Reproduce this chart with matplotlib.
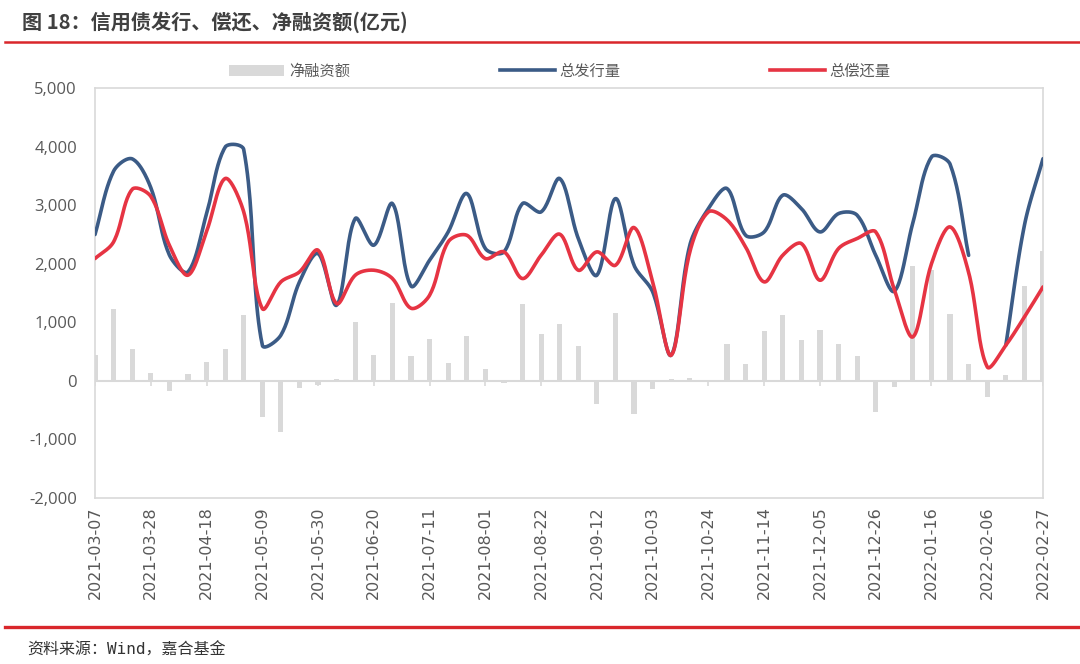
import numpy as np
import pandas as pd
import matplotlib
matplotlib.use("Agg")
from matplotlib import pyplot as plt
from matplotlib.patches import Patch
from matplotlib.lines import Line2D

plt.rcParams['font.family'] = ['Noto Sans CJK SC', 'DejaVu Sans']

# weekly data, 2021-03-07 .. 2022-02-27 (亿元)
dates = pd.date_range("2021-03-07", periods=52, freq="7D").strftime("%Y-%m-%d").tolist()

net = [450, 1235, 552, 142, -170, 120, 324, 552, 1120, -614,
       -870, -115, -75, 30, 1007, 450, 1337, 430, 723, 313,
       762, 210, -30, 1309, 808, 979, 592, -400, 1161, -570,
       -143, 30, 50, -20, 637, 296, 853, 1121, 694, 876,
       626, 421, -530, -100, 1965, 1890, 1148, 290, -270, 95,
       1625, 2225]

issue = [2498, 3580, 3790, 3300, 2150, 1860, 2850, 3990, 3950, 609,
         780, 1690, 2173, 1292, 2771, 2316, 3027, 1620, 2060, 2543,
         3198, 2259, 2202, 3027, 2885, 3454, 2430, 1804, 3112, 1974,
         1520, 440, 2316, 2942, 3283, 2486, 2543, 3169, 2942, 2543,
         2856, 2828, 2145, 1530, 2700, 3823, 3700, 2143, np.nan, 608,
         2655, 3793]

repay = [2088, 2373, 3270, 3150, 2316, 1804, 2550, 3454, 2885, 1235,
         1690, 1860, 2230, 1320, 1804, 1889, 1747, 1240, 1462, 2373,
         2486, 2088, 2202, 1747, 2145, 2504, 1889, 2202, 1974, 2617,
         1690, 438, 2202, 2885, 2750, 2287, 1690, 2145, 2344, 1718,
         2259, 2430, 2543, 1560, 751, 2000, 2628, 1850, 239, 609,
         1090, 1604]

BLUE = "#3B5B86"
RED = "#E63443"
GREY = "#D9D9D9"
TXT = "#595959"

# screen scale (px per data unit) used for the smoothing
SX = 948 / 51
SY = 410 / 7000


def smooth(x, y, n=24):
    # excel-like smoothed line, control points weighted by chord length
    x = np.asarray(x, float)
    y = np.asarray(y, float)
    ok = np.isfinite(y)
    segs = []
    i = 0
    while i < len(y):
        if not ok[i]:
            i += 1
            continue
        j = i
        while j < len(y) and ok[j]:
            j += 1
        segs.append((x[i:j], y[i:j]))
        i = j
    out = []
    for xs, ys in segs:
        if len(xs) < 2:
            continue
        P = np.column_stack([xs * SX, ys * SY])
        m = len(P)
        d = np.hypot(*np.diff(P, axis=0).T)
        pts = [P[0]]
        for k in range(m - 1):
            p1, p2 = P[k], P[k + 1]
            if k > 0:
                w = d[k] / (d[k - 1] + d[k])
                c1 = p1 + (p2 - P[k - 1]) * w / 3
            else:
                c1 = p1 + (p2 - p1) / 3
            if k + 2 < m:
                w = d[k] / (d[k] + d[k + 1])
                c2 = p2 - (P[k + 2] - p1) * w / 3
            else:
                c2 = p2 - (p2 - p1) / 3
            t = np.linspace(0, 1, n)[1:, None]
            b = ((1 - t) ** 3) * p1 + 3 * ((1 - t) ** 2) * t * c1 \
                + 3 * (1 - t) * t ** 2 * c2 + t ** 3 * p2
            pts.extend(b)
        pts = np.array(pts)
        out.append((pts[:, 0] / SX, pts[:, 1] / SY))
    return out


fig = plt.figure(figsize=(10.8, 6.64), dpi=100)
ax = fig.add_axes([95 / 1080, 1 - 498 / 664, 948 / 1080, 410 / 664])

x = np.arange(len(dates))
ax.bar(x, net, width=0.28, color=GREY, zorder=1)
ax.axhline(0, color=GREY, lw=1.5, zorder=1.5)
tick_idx = x[::3]
ax.vlines(tick_idx, -90, 0, color=GREY, lw=1.2, zorder=1.5)

for xs, ys in smooth(x, issue):
    ax.plot(xs, ys, color=BLUE, lw=2.6, zorder=3, solid_capstyle='round')
for xs, ys in smooth(x, repay):
    ax.plot(xs, ys, color=RED, lw=2.6, zorder=4, solid_capstyle='round')

ax.set_xlim(0, len(dates) - 1)
ax.set_ylim(-2000, 5000)
ax.set_yticks(range(-2000, 5001, 1000))
ax.set_yticklabels([f"{v:,}" for v in range(-2000, 5001, 1000)],
                   fontfamily='Open Sans', fontsize=12, color=TXT)
ax.set_xticks(tick_idx)
ax.set_xticklabels([dates[i] for i in tick_idx], rotation=90,
                   fontfamily='DejaVu Sans', fontsize=11.5, color=TXT)
ax.tick_params(axis='y', length=0, pad=13)
ax.tick_params(axis='x', length=0, pad=6)
for s in ax.spines.values():
    s.set_color(GREY)
    s.set_linewidth(1.2)

handles = [Patch(facecolor=GREY, edgecolor='none'),
           Line2D([], [], color=BLUE, lw=2.6),
           Line2D([], [], color=RED, lw=2.6)]
fig.legend(handles, ["净融资额", "总发行量", "总偿还量"], loc='center',
           bbox_to_anchor=(560 / 1080, 1 - 71 / 664), ncol=3, frameon=False,
           fontsize=11, handlelength=3.6, handletextpad=0.3,
           columnspacing=9.8, labelcolor=TXT)

fig.text(22 / 1080, 1 - 22 / 664, "图 18：信用债发行、偿还、净融资额(亿元)",
         fontsize=14.5, fontweight='bold', color="#404040", va='center', ha='left')
fig.add_artist(Line2D([5 / 1080, 1], [1 - 42 / 664] * 2, color="#D9262B", lw=1.8))
fig.add_artist(Line2D([5 / 1080, 1], [1 - 627 / 664] * 2, color="#D9262B", lw=2.4))
fig.text(27 / 1080, 1 - 650 / 664, "资料来源：Wind，嘉合基金",
         family=['DejaVu Sans Mono', 'Noto Sans CJK SC'],
         fontsize=11.5, color="#333333", va='center', ha='left')

fig.savefig("out.png", dpi=100)
